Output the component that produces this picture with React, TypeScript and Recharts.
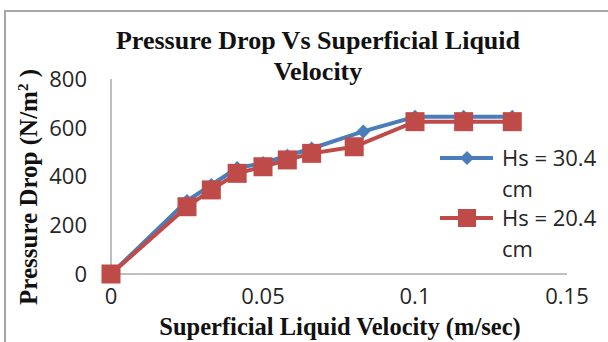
import React from "react";
import { LineChart, Line, XAxis, YAxis, Legend } from "recharts";

// Superficial liquid velocity (m/sec) for each bed height
const VELOCITY_HS30 = [0, 0.025, 0.033, 0.0415, 0.05, 0.058, 0.066, 0.083, 0.1, 0.116, 0.132];
const VELOCITY_HS20 = [0, 0.025, 0.033, 0.0415, 0.05, 0.058, 0.066, 0.08, 0.1, 0.116, 0.132];

// Pressure drop (N/m²)
const DROP_HS30 = [0, 300, 365, 435, 455, 485, 515, 585, 645, 645, 645];
const DROP_HS20 = [0, 276, 345, 413, 440, 468, 495, 522, 625, 625, 625];

const SERIES_NAMES = ["Hs = 30.4 cm", "Hs = 20.4 cm"];
const X_TICKS = [0, 0.05, 0.1, 0.15];
const X_TICK_LABELS = ["0", "0.05", "0.1", "0.15"];
const Y_TICKS = [0, 200, 400, 600, 800];

const BLUE = "#4a7ebb";
const RED = "#be4b48";
const AXIS_GREY = "#bfbfbf";
const SANS = "'Open Sans', sans-serif";
const SERIF = "'Liberation Serif', 'Times New Roman', serif";

const hs30 = VELOCITY_HS30.map((v, i) => ({ v, p: DROP_HS30[i] }));
const hs20 = VELOCITY_HS20.map((v, i) => ({ v, p: DROP_HS20[i] }));

const Diamond = (props: any) => {
  const { cx, cy, index } = props;
  if (cx == null || cy == null) return <g key={index} />;
  const r = 7;
  return (
    <polygon
      key={index}
      points={`${cx},${cy - r} ${cx + r},${cy} ${cx},${cy + r} ${cx - r},${cy}`}
      fill={BLUE}
    />
  );
};

const Square = (props: any) => {
  const { cx, cy, index } = props;
  if (cx == null || cy == null) return <g key={index} />;
  const s = 19;
  return <rect key={index} x={cx - s / 2} y={cy - s / 2} width={s} height={s} fill={RED} />;
};

const LegendBox = () => {
  const rows = [
    { color: BLUE, shape: "diamond", label: SERIES_NAMES[0] },
    { color: RED, shape: "square", label: SERIES_NAMES[1] },
  ];
  return (
    <div style={{ fontFamily: SANS, fontSize: 22, color: "#262626" }}>
      {rows.map((r, i) => {
        const [first, second] = [r.label.slice(0, 9), r.label.slice(10)];
        return (
          <div key={i} style={{ position: "relative", height: 60 }}>
            <svg width={56} height={24} style={{ position: "absolute", left: 0, top: 4 }}>
              <line x1={2} y1={12} x2={55} y2={12} stroke={r.color} strokeWidth={4} />
              {r.shape === "diamond" ? (
                <polygon points="29,5 36,12 29,19 22,12" fill={r.color} />
              ) : (
                <rect x={20} y={3} width={18} height={18} fill={r.color} />
              )}
            </svg>
            <div style={{ position: "absolute", left: 64, top: 0, lineHeight: "31px", whiteSpace: "nowrap" }}>
              <div>{first}</div>
              <div>{second}</div>
            </div>
          </div>
        );
      })}
    </div>
  );
};

export default function App() {
  return (
    <div style={{ position: "absolute", left: 0, top: 0, width: 608, height: 342, background: "#fff", overflow: "hidden" }}>
      <svg width={608} height={342} style={{ position: "absolute", left: 0, top: 0 }}>
        <rect x={5} y={11} width={700} height={400} fill="none" stroke="#a6a6a6" strokeWidth={2} />
      </svg>
      <LineChart
        width={608}
        height={342}
        margin={{ top: 79, right: 41, bottom: 0, left: 0 }}
        style={{ position: "absolute", left: 0, top: 0 }}
      >
        <XAxis
          type="number"
          dataKey="v"
          domain={[0, 0.15]}
          ticks={X_TICKS}
          tickFormatter={(t: number) => X_TICK_LABELS[X_TICKS.indexOf(t)] ?? String(t)}
          height={68}
          axisLine={{ stroke: AXIS_GREY, strokeWidth: 2 }}
          tickLine={false}
          tickSize={0}
          tickMargin={14}
          tick={{ fill: "#262626", fontSize: 22, fontFamily: SANS }}
          allowDuplicatedCategory={false}
        />
        <YAxis
          type="number"
          dataKey="p"
          domain={[0, 800]}
          ticks={Y_TICKS}
          width={111}
          axisLine={{ stroke: AXIS_GREY, strokeWidth: 2 }}
          tickLine={false}
          tickSize={0}
          tickMargin={24}
          tick={{ fill: "#262626", fontSize: 22, fontFamily: SANS }}
        />
        <Legend
          verticalAlign="middle"
          align="center"
          layout="vertical"
          content={() => <LegendBox />}
          wrapperStyle={{ position: "absolute", left: 438, top: 142, width: 170 }}
        />
        <Line
          data={hs30}
          dataKey="p"
          name={SERIES_NAMES[0]}
          stroke={BLUE}
          strokeWidth={4}
          dot={<Diamond />}
          isAnimationActive={false}
        />
        <Line
          data={hs20}
          dataKey="p"
          name={SERIES_NAMES[1]}
          stroke={RED}
          strokeWidth={4}
          dot={<Square />}
          isAnimationActive={false}
        />
      </LineChart>
      <svg width={608} height={342} style={{ position: "absolute", left: 0, top: 0, pointerEvents: "none" }}>
        <g fontFamily={SERIF} fontWeight="bold" fill="#111">
          <text x={318} y={49} fontSize={26} textAnchor="middle">Pressure Drop Vs Superficial Liquid</text>
          <text x={318} y={80} fontSize={26} textAnchor="middle">Velocity</text>
          <text x={340} y={335} fontSize={24.5} textAnchor="middle">Superficial Liquid Velocity (m/sec)</text>
          <text x={0} y={0} fontSize={25} textAnchor="middle" transform="translate(37,187) rotate(-90)">
            Pressure Drop (N/m
            <tspan fontSize={15} dy={-9}>2</tspan>
            <tspan dy={9}> )</tspan>
          </text>
        </g>
      </svg>
    </div>
  );
}
